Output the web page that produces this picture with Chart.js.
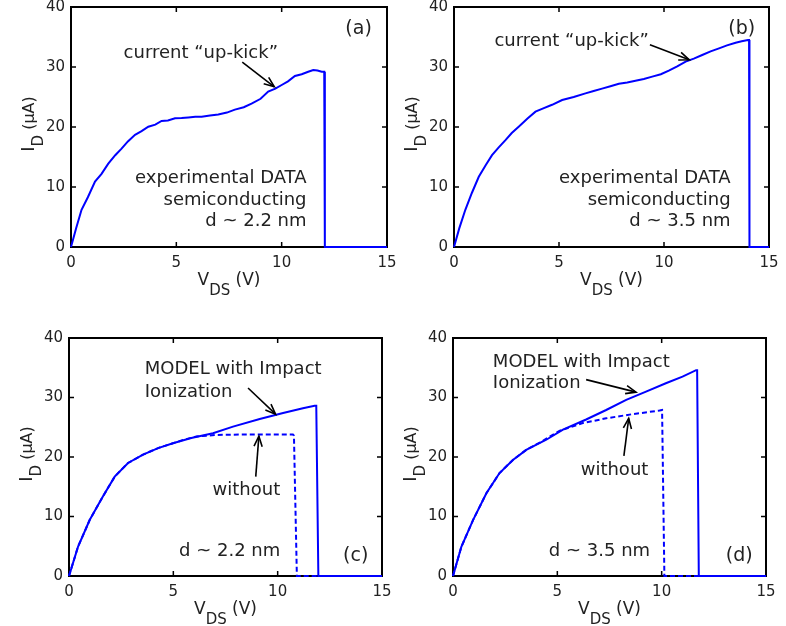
<!DOCTYPE html>
<html><head><meta charset="utf-8">
<script src="https://cdn.jsdelivr.net/npm/chart.js@4.4.1/dist/chart.umd.min.js"></script>
<style>
html,body{margin:0;padding:0;background:#fff;}
#wrap{position:relative;width:786px;height:626px;}
canvas{position:absolute;left:0;top:0;}
</style></head><body>
<div id="wrap">
<canvas id="ca" width="786" height="626"></canvas>
<canvas id="cb" width="786" height="626"></canvas>
<canvas id="cc" width="786" height="626"></canvas>
<canvas id="cd" width="786" height="626"></canvas>
</div>
<script>
// ---- tick labels ----
const xTicks = [0, 5, 10, 15];
const yTicks = [0, 10, 20, 30, 40];

// ---- (a) experimental, d ~ 2.2 nm ----
const vA = [0,0.25,0.5,0.8,1.14,1.45,1.77,2.1,2.4,2.7,3.04,3.35,3.67,4.0,4.3,4.6,4.94,5.25,5.57,5.9,6.2,6.6,6.99,7.4,7.78,8.2,8.57,9.0,9.36,9.7,10.0,10.3,10.63,10.95,11.26,11.5,11.7,11.9,12.02,12.05,15];
const iA = [0,3.2,6.2,8.3,10.9,12.2,13.9,15.3,16.4,17.6,18.7,19.3,20.05,20.4,21.0,21.1,21.45,21.5,21.6,21.7,21.7,21.9,22.1,22.4,22.9,23.3,23.9,24.7,25.9,26.4,27.0,27.6,28.5,28.8,29.2,29.5,29.4,29.2,29.2,0,0];

// ---- (b) experimental, d ~ 3.5 nm ----
const vB = [0,0.25,0.54,0.85,1.18,1.5,1.81,2.13,2.45,2.75,3.08,3.5,3.88,4.25,4.67,5.15,5.7,6.26,6.65,7.05,7.45,7.85,8.25,8.64,9.04,9.44,9.85,10.23,10.63,11.03,11.42,11.82,12.22,12.62,13.0,13.41,13.7,14.0,14.05,14.07,15];
const iB = [0,3.1,6.2,9.0,11.7,13.6,15.3,16.6,17.8,19.0,20.05,21.4,22.55,23.1,23.7,24.5,25.0,25.6,26.0,26.4,26.8,27.2,27.4,27.7,28.0,28.4,28.8,29.4,30.1,30.9,31.4,32.0,32.6,33.1,33.6,34.05,34.3,34.5,34.5,0,0];

// ---- (c) model, d ~ 2.2 nm ----
const vC = [0,0.43,0.99,1.63,2.19,2.83,3.55,4.27,4.98,5.86,6.9,7.86,9.14,10.26,11.21,11.77,11.85,11.95,15];
const iC = [0,4.9,9.4,13.4,16.7,19.0,20.4,21.5,22.3,23.2,24.0,25.1,26.4,27.4,28.2,28.6,28.6,0,0];
const vCno = [0,0.43,0.99,1.63,2.19,2.83,3.55,4.27,4.98,5.5,6.1,7.06,8.66,10.0,10.73,10.78,10.92,15];
const iCno = [0,4.9,9.4,13.4,16.7,19.0,20.4,21.5,22.3,22.9,23.45,23.7,23.8,23.8,23.8,23.6,0,0];

// ---- (d) model, d ~ 3.5 nm ----
const vD = [0,0.4,0.96,1.6,2.23,2.87,3.51,4.47,5.27,6.38,7.34,8.3,9.25,10.2,11.0,11.65,11.7,11.78,15];
const iD = [0,4.9,9.4,13.9,17.3,19.5,21.2,22.9,24.6,26.3,27.9,29.6,31.0,32.4,33.5,34.6,34.6,0,0];
const vDno = [0,0.4,0.96,1.6,2.23,2.87,3.51,4.2,5.1,6.22,7.34,8.6,9.9,10.02,10.13,15];
const iDno = [0,4.9,9.4,13.9,17.3,19.5,21.2,22.5,24.4,25.7,26.5,27.2,27.8,27.9,0,0];

const FONT = 'DejaVu Sans';
const TXT = '#222222';
const BLUE = '#0000ff';
Chart.defaults.font.family = FONT;
Chart.defaults.font.size = 15;
Chart.defaults.color = TXT;

function drawParts(ctx, parts, x, y, rotate) {
  ctx.save();
  ctx.translate(x, y);
  if (rotate) ctx.rotate(-Math.PI / 2);
  let total = 0;
  parts.forEach(p => { ctx.font = p.size + 'px "' + FONT + '"'; p.w = ctx.measureText(p.t).width; total += p.w; });
  let cx = -total / 2;
  ctx.fillStyle = TXT;
  ctx.textBaseline = 'alphabetic';
  ctx.textAlign = 'left';
  parts.forEach(p => { ctx.font = p.size + 'px "' + FONT + '"'; ctx.fillText(p.t, cx, p.dy); cx += p.w; });
  ctx.restore();
}

function arrow(ctx, x0, y0, x1, y1) {
  ctx.save();
  ctx.strokeStyle = '#000';
  ctx.lineWidth = 1.6;
  ctx.beginPath(); ctx.moveTo(x0, y0); ctx.lineTo(x1, y1); ctx.stroke();
  const ang = Math.atan2(y1 - y0, x1 - x0), L = 11, h = 0.38;
  ctx.beginPath();
  ctx.moveTo(x1 - L * Math.cos(ang - h), y1 - L * Math.sin(ang - h));
  ctx.lineTo(x1, y1);
  ctx.lineTo(x1 - L * Math.cos(ang + h), y1 - L * Math.sin(ang + h));
  ctx.stroke();
  ctx.restore();
}

function panelPlugin(notes) {
  return {
    id: 'panel',
    beforeDatasetsDraw(chart) {
      const { ctx, chartArea: a, scales: { x, y } } = chart;
      ctx.save();
      ctx.strokeStyle = '#000';
      ctx.lineWidth = 2;
      ctx.strokeRect(a.left, a.top, a.right - a.left, a.bottom - a.top);
      ctx.lineWidth = 1.5;
      ctx.beginPath();
      xTicks.forEach(v => {
        const p = x.getPixelForValue(v);
        ctx.moveTo(p, a.bottom); ctx.lineTo(p, a.bottom - 5);
        ctx.moveTo(p, a.top); ctx.lineTo(p, a.top + 5);
      });
      yTicks.forEach(v => {
        const p = y.getPixelForValue(v);
        ctx.moveTo(a.left, p); ctx.lineTo(a.left + 5, p);
        ctx.moveTo(a.right, p); ctx.lineTo(a.right - 5, p);
      });
      ctx.stroke();
      ctx.restore();
    },
    afterDraw(chart) {
      const { ctx, chartArea: a, scales: { x, y } } = chart;
      // axis titles
      drawParts(ctx, [{ t: 'V', size: 17, dy: 0 }, { t: 'DS', size: 15, dy: 10 }, { t: ' (V)', size: 17, dy: 0 }],
        (a.left + a.right) / 2, a.bottom + 38, false);
      drawParts(ctx, [{ t: 'I', size: 18, dy: 0 }, { t: 'D', size: 15, dy: 9 }, { t: ' (\u03bcA)', size: 16, dy: 0 }],
        a.left - 37, (a.top + a.bottom) / 2 - 3, true);
      // annotations
      ctx.save();
      ctx.fillStyle = TXT;
      ctx.textBaseline = 'middle';
      notes.texts.forEach(n => {
        ctx.font = (n.size || 18) + 'px "' + FONT + '"';
        ctx.textAlign = n.align || 'center';
        ctx.fillText(n.s, x.getPixelForValue(n.x), y.getPixelForValue(n.y));
      });
      ctx.restore();
      notes.arrows.forEach(r => arrow(ctx, x.getPixelForValue(r[0]), y.getPixelForValue(r[1]),
        x.getPixelForValue(r[2]), y.getPixelForValue(r[3])));
    }
  };
}

function makePanel(id, rect, series, notes) {
  const W = 60, H = 50;
  const zeroPad = s => { s.paddingLeft = 0; s.paddingRight = 0; s.paddingTop = 0; s.paddingBottom = 0; };
  const datasets = series.map(s => ({
    data: s.v.map((v, i) => ({ x: v, y: s.i[i] })),
    borderColor: BLUE,
    borderWidth: 2,
    borderDash: s.dash ? [5, 3] : [],
    pointRadius: 0,
    tension: 0,
    fill: false,
    clip: false
  }));
  new Chart(document.getElementById(id), {
    type: 'line',
    data: { datasets },
    options: {
      responsive: false,
      animation: false,
      devicePixelRatio: 1,
      events: [],
      layout: { padding: { left: rect.l - W, top: rect.t, right: 786 - rect.r, bottom: 626 - rect.b - H } },
      plugins: { legend: { display: false }, tooltip: { enabled: false } },
      scales: {
        x: {
          type: 'linear', min: 0, max: 15,
          afterBuildTicks: s => { s.ticks = xTicks.map(v => ({ value: v })); },
          grid: { display: false, drawTicks: false, tickLength: 0 }, border: { display: false },
          ticks: { padding: 7, font: { size: 15 }, color: TXT, maxRotation: 0, autoSkip: false },
          afterFit: s => { s.height = H; zeroPad(s); }
        },
        y: {
          type: 'linear', min: 0, max: 40,
          afterBuildTicks: s => { s.ticks = yTicks.map(v => ({ value: v })); },
          grid: { display: false, drawTicks: false, tickLength: 0 }, border: { display: false },
          ticks: { padding: 6, font: { size: 15 }, color: TXT, autoSkip: false },
          afterFit: s => { s.width = W; zeroPad(s); }
        }
      }
    },
    plugins: [panelPlugin(notes)]
  });
}

makePanel('ca', { l: 71, t: 7, r: 387, b: 247 },
  [{ v: vA, i: iA }],
  {
    texts: [
      { s: '(a)', x: 13.65, y: 36.3, size: 19 },
      { s: 'current \u201cup-kick\u201d', x: 6.16, y: 32.3 },
      { s: 'experimental DATA', x: 11.18, y: 11.4, align: 'right' },
      { s: 'semiconducting', x: 11.18, y: 7.8, align: 'right' },
      { s: 'd ~ 2.2 nm', x: 11.18, y: 4.3, align: 'right' }
    ],
    arrows: [[8.13, 30.8, 9.65, 26.7]]
  });

makePanel('cb', { l: 454, t: 7, r: 769, b: 247 },
  [{ v: vB, i: iB }],
  {
    texts: [
      { s: '(b)', x: 13.7, y: 36.3, size: 19 },
      { s: 'current \u201cup-kick\u201d', x: 5.6, y: 34.2 },
      { s: 'experimental DATA', x: 13.17, y: 11.4, align: 'right' },
      { s: 'semiconducting', x: 13.17, y: 7.8, align: 'right' },
      { s: 'd ~ 3.5 nm', x: 13.17, y: 4.3, align: 'right' }
    ],
    arrows: [[9.33, 33.7, 11.2, 31.2]]
  });

makePanel('cc', { l: 69, t: 338, r: 382, b: 576 },
  [{ v: vC, i: iC }, { v: vCno, i: iCno, dash: true }],
  {
    texts: [
      { s: 'MODEL with Impact', x: 3.63, y: 34.7, align: 'left' },
      { s: 'Ionization', x: 3.63, y: 30.9, align: 'left' },
      { s: 'without', x: 8.5, y: 14.4 },
      { s: 'd ~ 2.2 nm', x: 7.7, y: 4.2 },
      { s: '(c)', x: 13.74, y: 3.4, size: 19 }
    ],
    arrows: [[8.58, 31.6, 9.9, 27.2], [8.95, 16.7, 9.1, 23.5]]
  });

makePanel('cd', { l: 453, t: 338, r: 766, b: 576 },
  [{ v: vD, i: iD }, { v: vDno, i: iDno, dash: true }],
  {
    texts: [
      { s: 'MODEL with Impact', x: 1.91, y: 35.9, align: 'left' },
      { s: 'Ionization', x: 1.91, y: 32.3, align: 'left' },
      { s: 'without', x: 7.74, y: 17.7 },
      { s: 'd ~ 3.5 nm', x: 7.02, y: 4.2 },
      { s: '(d)', x: 13.72, y: 3.4, size: 19 }
    ],
    arrows: [[6.38, 33.0, 8.77, 30.9], [8.19, 20.2, 8.42, 26.5]]
  });
</script>
</body></html>
